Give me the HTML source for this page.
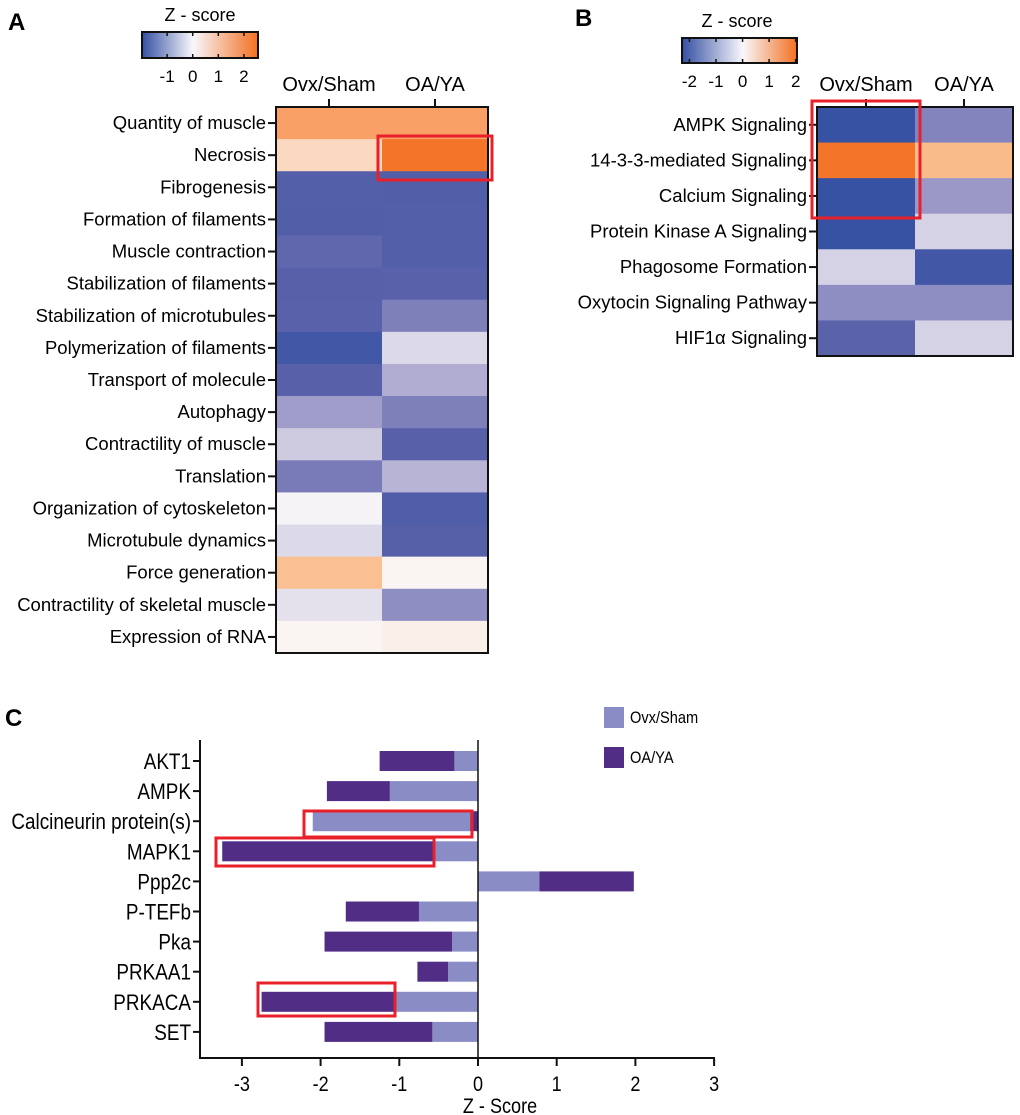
<!DOCTYPE html>
<html><head><meta charset="utf-8"><style>
html,body{margin:0;padding:0;background:#fff}
svg{display:block;font-family:"Liberation Sans",sans-serif}
</style></head><body>
<svg id="fig" width="1020" height="1115" viewBox="0 0 1020 1115">
<defs>
<linearGradient id="gradA" x1="0" x2="1" y1="0" y2="0">
<stop offset="0" stop-color="#3450a2"/><stop offset="0.44" stop-color="#f8f7fb"/><stop offset="1" stop-color="#f37021"/></linearGradient>
<linearGradient id="gradB" x1="0" x2="1" y1="0" y2="0">
<stop offset="0" stop-color="#3450a2"/><stop offset="0.53" stop-color="#f8f7fb"/><stop offset="1" stop-color="#f37021"/></linearGradient>
</defs>
<text x="8" y="30" font-size="24" font-weight="bold">A</text>
<text x="575" y="26" font-size="24" font-weight="bold">B</text>
<text x="5" y="726" font-size="24" font-weight="bold">C</text>
<g id="A"></g>
<g id="B"></g>
<g id="C"></g>
</svg>
<script>
const NS='http://www.w3.org/2000/svg';
function mk(p,tag,at,txt){const e=document.createElementNS(NS,tag);for(const k in at)e.setAttribute(k,at[k]);if(txt!==undefined)e.textContent=txt;p.appendChild(e);return e;}
const stops=[[-2.3,[52,80,162]],[-1.2,[90,98,170]],[-0.6,[161,157,202]],[0,[250,248,248]],[1,[251,192,146]],[2.5,[243,112,33]]];
function col(v){if(v<=stops[0][0])return 'rgb('+stops[0][1]+')';for(let i=1;i<stops.length;i++){if(v<=stops[i][0]){const a=stops[i-1],b=stops[i],t=(v-a[0])/(b[0]-a[0]);return 'rgb('+a[1].map((c,j)=>Math.round(c+(b[1][j]-c)*t)).join(',')+')';}}return 'rgb('+stops[stops.length-1][1]+')';}

// Panel A data
const rowsA=["Quantity of muscle","Necrosis","Fibrogenesis","Formation of filaments","Muscle contraction","Stabilization of filaments","Stabilization of microtubules","Polymerization of filaments","Transport of molecule","Autophagy","Contractility of muscle","Translation","Organization of cytoskeleton","Microtubule dynamics","Force generation","Contractility of skeletal muscle","Expression of RNA"];
const ovxA=[1.6,0.55,-1.4,-1.45,-1.15,-1.3,-1.25,-1.9,-1.3,-0.6,-0.3,-0.95,-0.03,-0.2,1.0,-0.15,0.05];
const oaA=[1.6,2.4,-1.45,-1.4,-1.4,-1.25,-0.9,-0.2,-0.5,-0.9,-1.3,-0.45,-1.5,-1.35,0.06,-0.75,0.15];
const colsA=["Ovx/Sham","OA/YA"];
const ticksA=[-1,0,1,2];
// Panel B data
const rowsB=["AMPK Signaling","14-3-3-mediated Signaling","Calcium Signaling","Protein Kinase A Signaling","Phagosome Formation","Oxytocin Signaling Pathway","HIF1\u03b1 Signaling"];
const ovxB=[-2.2,2.4,-2.2,-2.2,-0.25,-0.75,-1.2];
const oaB=[-0.85,1.1,-0.65,-0.25,-1.9,-0.75,-0.25];
const ticksB=[-2,-1,0,1,2];
// Panel C data
const genesC=["AKT1","AMPK","Calcineurin protein(s)","MAPK1","Ppp2c","P-TEFb","Pka","PRKAA1","PRKACA","SET"];
const ovxC=[-0.3,-1.12,-2.0,-0.55,0.78,-0.75,-0.33,-0.38,-1.05,-0.58];
const oaC=[-0.95,-0.8,-0.1,-2.7,1.2,-0.93,-1.62,-0.39,-1.7,-1.37];
const oaInnerC=[false,false,true,false,false,false,false,false,false,false];
const ticksC=[-3,-2,-1,0,1,2,3];

function heat(g,rows,ovx,oa,x0,x1,y0,y1,ticks,cb,grad,cbTitleX,boxes){
  const rh=(y1-y0)/rows.length,cw=(x1-x0)/2;
  [ovx,oa].forEach((arr,c)=>arr.forEach((v,i)=>{const r=mk(g,'rect',{x:x0+c*cw,y:y0+i*rh,width:cw+0.5,height:rh+0.5,fill:col(v)});
    
    }));
  mk(g,'rect',{x:x0,y:y0,width:x1-x0,height:y1-y0,fill:'none',stroke:'#111','stroke-width':2});
  rows.forEach((t,i)=>{const y=y0+(i+0.5)*rh;mk(g,'line',{x1:x0-8,x2:x0,y1:y,y2:y,stroke:'#111','stroke-width':2});
    const tx=mk(g,'text',{x:x0-10,y:y+6,'font-size':18.5,'text-anchor':'end'},t);
    
    });
  colsA.forEach((t,c)=>{const x=x0+(c+0.5)*cw;mk(g,'line',{x1:x,x2:x,y1:y0-8,y2:y0,stroke:'#111','stroke-width':2});
    const tx=mk(g,'text',{x:x,y:y0-16,'font-size':20,'text-anchor':'middle'},t);
    
    });
  const cbr=mk(g,'rect',{x:cb.x,y:cb.y,width:cb.w,height:cb.h,fill:'url(#'+grad+')',stroke:'#111','stroke-width':2});
  
  
  const sx=v=>cb.x+(v-cb.min)/(cb.max-cb.min)*cb.w;
  ticks.forEach(v=>{const x=sx(v);mk(g,'line',{x1:x,x2:x,y1:cb.y,y2:cb.y+4,stroke:'#111','stroke-width':1.5});mk(g,'line',{x1:x,x2:x,y1:cb.y+cb.h-4,y2:cb.y+cb.h,stroke:'#111','stroke-width':1.5});
    mk(g,'text',{x:x,y:cb.y+cb.h+24,'font-size':17,'text-anchor':'middle'},v);});
  const tt=mk(g,'text',{x:cbTitleX,y:cb.y-11,'font-size':18,'text-anchor':'middle'},'Z - score');
  
  
  boxes.forEach(b=>{const r=mk(g,'rect',{x:b[0],y:b[1],width:b[2],height:b[3],fill:'none',stroke:'#e8202a','stroke-width':3});
    
    });
}
heat(document.getElementById('A'),rowsA,ovxA,oaA,276,488,107,653,ticksA,{x:142,y:32,w:116,h:26,min:-1.98,max:2.55},'gradA',200,[[378,136,114,44]]);
heat(document.getElementById('B'),rowsB,ovxB,oaB,817,1013,107,356,ticksB,{x:682,y:38,w:115,h:25,min:-2.28,max:2.05},'gradB',737,[[812,101,108,117]]);

// Panel C
(function(){
  const g=document.getElementById('C');
  const x0=478,ux=78.7,yTop=761,step=30.1,bh=20;
  const sx=v=>x0+v*ux, sy=i=>yTop+i*step;
  genesC.forEach((t,i)=>{
    const y=sy(i);
    const a=ovxC[i],b=oaC[i];
    let s1=0,e1=a,s2=a,e2=a+b;
    if(oaInnerC[i]){s2=0;e2=b;s1=b;e1=a+b;}
    const r1=mk(g,'rect',{x:Math.min(sx(s1),sx(e1)),y:y-bh/2,width:Math.abs(a)*ux,height:bh,fill:'#8a8cc6'});
    
    
    const r2=mk(g,'rect',{x:Math.min(sx(s2),sx(e2)),y:y-bh/2,width:Math.abs(b)*ux,height:bh,fill:'#522d86'});
    
    
    mk(g,'line',{x1:193,x2:200,y1:y,y2:y,stroke:'#111','stroke-width':2});
    const tx=mk(g,'text',{transform:'translate(191,'+(y+8)+') scale(0.86,1)','font-size':22,'text-anchor':'end'},t);
    
    
  });
  mk(g,'line',{x1:200,x2:200,y1:740,y2:1059,stroke:'#111','stroke-width':2});
  mk(g,'line',{x1:199,x2:715,y1:1058,y2:1058,stroke:'#111','stroke-width':2});
  mk(g,'line',{x1:x0,x2:x0,y1:740,y2:1058,stroke:'#111','stroke-width':1.5});
  ticksC.forEach(v=>{const x=sx(v);mk(g,'line',{x1:x,x2:x,y1:1058,y2:1066,stroke:'#111','stroke-width':2});
    mk(g,'text',{transform:'translate('+x+',1091) scale(0.86,1)','font-size':21,'text-anchor':'middle'},v);});
  const xt=mk(g,'text',{transform:'translate('+(x0+22)+',1113) scale(0.86,1)','font-size':21,'text-anchor':'middle'},'Z - Score');
  
  
  const l1=mk(g,'rect',{x:604,y:707,width:20,height:21,fill:'#8a8cc6'});
  
  
  mk(g,'text',{transform:'translate(630,723) scale(0.86,1)','font-size':17},'Ovx/Sham');
  const l2=mk(g,'rect',{x:604,y:747,width:20,height:21,fill:'#522d86'});
  
  
  mk(g,'text',{transform:'translate(630,763) scale(0.86,1)','font-size':17},'OA/YA');
  [[304,811,168,26],[216,838,218,28],[258,983,137,33]].forEach(b=>{
    const r=mk(g,'rect',{x:b[0],y:b[1],width:b[2],height:b[3],fill:'none',stroke:'#e8202a','stroke-width':3});
    
    });
})();
</script>
</body></html>
